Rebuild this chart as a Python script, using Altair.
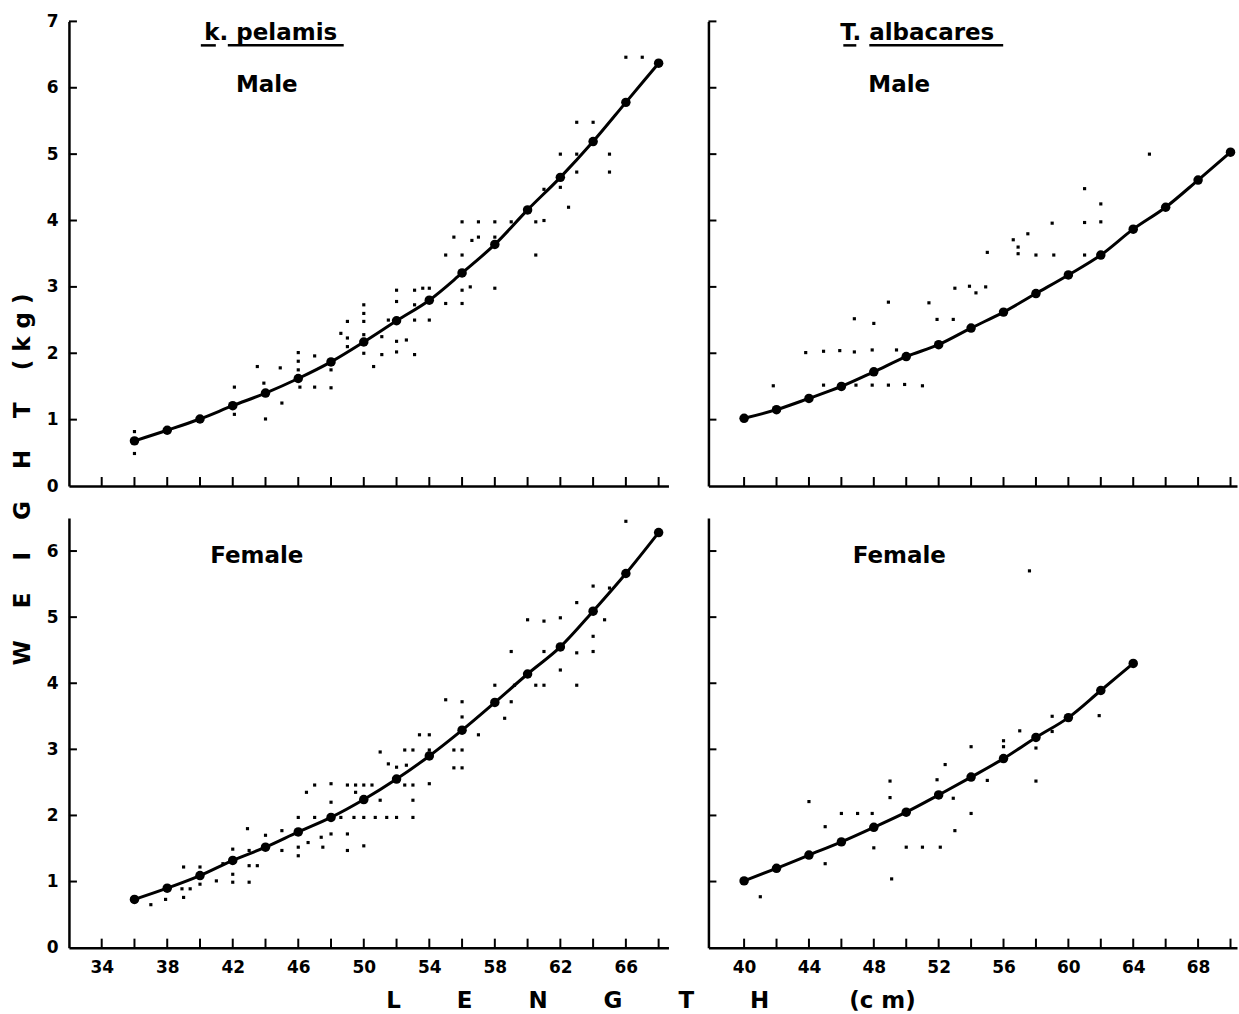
import altair as alt
import pandas as pd

# ---------------- data ----------------
kp_len = [36, 38, 40, 42, 44, 46, 48, 50, 52, 54, 56, 58, 60, 62, 64, 66, 68]
kp_male_w = [0.68, 0.84, 1.01, 1.21, 1.40, 1.62, 1.87, 2.17, 2.49, 2.80, 3.21, 3.64, 4.16, 4.65, 5.19, 5.78, 6.37]
kp_female_w = [0.73, 0.90, 1.09, 1.32, 1.52, 1.75, 1.97, 2.24, 2.55, 2.90, 3.29, 3.71, 4.14, 4.55, 5.09, 5.66, 6.28]

ta_male_len = [40, 42, 44, 46, 48, 50, 52, 54, 56, 58, 60, 62, 64, 66, 68, 70]
ta_male_w = [1.02, 1.15, 1.32, 1.50, 1.72, 1.95, 2.13, 2.38, 2.62, 2.90, 3.18, 3.48, 3.87, 4.20, 4.61, 5.03]
ta_female_len = [40, 42, 44, 46, 48, 50, 52, 54, 56, 58, 60, 62, 64]
ta_female_w = [1.01, 1.20, 1.40, 1.60, 1.82, 2.05, 2.31, 2.58, 2.86, 3.18, 3.48, 3.89, 4.30]

kp_m_sx = [36, 36, 42.1, 42.1, 43.5, 43.9, 44, 44.9, 45, 46, 46, 46, 46.1, 47, 47, 48, 48, 48.6, 49, 49, 49,
           50, 50, 50, 50, 50, 50.6, 51.1, 51.1, 51.5, 52, 52, 52, 52, 52.6, 53.1, 53.1, 53.1, 53.1, 53.6, 54,
           54, 55, 56, 56, 56.5, 55, 55.5, 56, 56, 56.6, 57, 57, 58, 58, 58, 59, 60.5, 61, 60.5, 61, 62, 62,
           62.5, 63, 63, 63, 64, 65, 65, 66, 67]
kp_m_sy = [0.82, 0.49, 1.49, 1.08, 1.80, 1.55, 1.01, 1.78, 1.25, 2.01, 1.88, 1.75, 1.49, 1.96, 1.49, 1.75, 1.48,
           2.30, 2.48, 2.23, 2.10, 2.73, 2.60, 2.48, 2.28, 2.00, 1.80, 1.98, 2.25, 2.50, 2.95, 2.78, 2.18, 2.02,
           2.20, 2.95, 2.73, 2.50, 1.98, 2.98, 2.50, 2.98, 2.75, 2.95, 2.75, 3.00, 3.48, 3.75, 3.98, 3.48, 3.70,
           3.98, 3.75, 3.98, 2.98, 3.75, 3.98, 3.98, 4.00, 3.48, 4.47, 5.00, 4.50, 4.20, 5.48, 5.00, 4.73, 5.48,
           5.00, 4.73, 6.46, 6.46]

kp_f_sx = [37, 37.9, 39, 39, 38.9, 39.4, 40, 40, 41, 41.4, 42, 42, 42, 42.9, 43, 43, 43, 43.5, 44, 45, 45, 46,
           46, 46, 46.5, 46.6, 47, 47, 47.4, 47.5, 48, 48, 48, 48.6, 49, 49, 49, 49.4, 49.5, 49.5, 50, 50, 50,
           50.5, 50.7, 51, 51, 51.4, 51.5, 52, 52, 52.5, 52.5, 52.6, 53, 53, 53, 53, 53.4, 54, 54, 54, 55, 55.5,
           55.5, 56, 56, 56, 56, 57, 58, 58.6, 59, 59, 59.2, 60, 60.5, 61, 61, 61, 62, 62, 63, 63, 63, 64, 64,
           64, 64.7, 65, 66]
kp_f_sy = [0.65, 0.73, 1.22, 0.76, 0.89, 0.89, 1.22, 0.96, 1.01, 1.27, 1.49, 1.11, 0.99, 1.80, 1.47, 1.24, 0.99,
           1.24, 1.70, 1.77, 1.47, 1.97, 1.39, 1.52, 2.35, 1.59, 2.46, 1.97, 1.67, 1.52, 2.48, 2.20, 1.72, 1.97,
           2.46, 1.72, 1.47, 1.97, 2.46, 2.35, 2.46, 1.97, 1.54, 2.46, 1.97, 2.96, 2.23, 1.97, 2.78, 2.73, 1.97,
           2.99, 2.46, 2.76, 2.99, 2.46, 2.23, 1.97, 3.22, 3.22, 2.99, 2.48, 3.75, 2.99, 2.72, 3.72, 3.49, 2.99,
           2.72, 3.22, 3.97, 3.47, 4.48, 3.72, 3.97, 4.96, 3.97, 4.94, 4.48, 3.97, 4.99, 4.20, 5.22, 4.46, 3.97,
           5.47, 4.71, 4.48, 4.96, 5.44, 6.45]

ta_m_sx = [41.8, 43.8, 44.9, 44.9, 45.9, 46.8, 46.8, 46.9, 47.9, 47.9, 48, 48.9, 48.9, 49.4, 49.9, 51, 51.4,
           51.9, 52.9, 53, 53.9, 54.3, 54.9, 55, 56.6, 56.9, 56.9, 57.5, 58, 59, 59.1, 61, 61, 61, 62, 62, 65]
ta_m_sy = [1.51, 2.01, 2.03, 1.52, 2.04, 2.52, 2.02, 1.52, 2.05, 1.52, 2.45, 2.77, 1.52, 2.05, 1.53, 1.51, 2.76,
           2.51, 2.51, 2.98, 3.01, 2.91, 3.00, 3.52, 3.71, 3.60, 3.50, 3.80, 3.48, 3.96, 3.48, 3.97, 3.48, 4.48,
           4.25, 3.98, 5.00]

ta_f_sx = [41, 44, 45, 45, 46, 47, 47.9, 48, 49, 49, 49.1, 50, 51, 51.9, 52.1, 52.4, 52.9, 53, 54, 54, 55, 56,
           56, 57, 57.6, 58, 58, 59, 59, 61.9]
ta_f_sy = [0.77, 2.21, 1.83, 1.27, 2.03, 2.03, 2.03, 1.51, 2.52, 2.27, 1.04, 1.52, 1.52, 2.54, 1.52, 2.77, 2.26,
           1.77, 3.04, 2.03, 2.53, 3.13, 3.04, 3.28, 5.70, 3.02, 2.52, 3.50, 3.27, 3.51]

left_xlabels = [34, 38, 42, 46, 50, 54, 58, 62, 66]
left_xticks = [34, 36, 38, 40, 42, 44, 46, 48, 50, 52, 54, 56, 58, 60, 62, 64, 66, 68]
right_xlabels = [40, 44, 48, 52, 56, 60, 64, 68]
right_xticks = [40, 42, 44, 46, 48, 50, 52, 54, 56, 58, 60, 62, 64, 66, 68, 70]
top_ylabels = [0, 1, 2, 3, 4, 5, 6, 7]
top_yticks = [1, 2, 3, 4, 5, 6, 7]
bot_ylabels = [0, 1, 2, 3, 4, 5, 6]
bot_yticks = [1, 2, 3, 4, 5, 6]

# ---------------- styling ----------------
FONT = "DejaVu Sans"
NB = "\u00a0"
LEFT_DOM = [32, 68.6]
RIGHT_DOM = [37.8, 70.4]
TOP_DOM = [0, 7]
BOT_DOM = [0, 6.5]
LW, RW = 600, 529
TH, BH = 465, 430

y_title = (NB * 4).join(list("WEIGHT")) + NB * 4 + "(" + NB + "k" + NB + "g" + NB + ")"
x_title = (NB * 7).join(list("LENGTH")) + NB * 10 + "(c" + NB + "m)"


def axis(values, show_labels, pad, title=None, extra=None):
    kw = dict(values=values, labels=show_labels, ticks=False, grid=False, format="d",
              domainColor="black", domainWidth=2.5, labelPadding=pad,
              labelFont=FONT, labelFontSize=17, labelFontWeight="bold",
              labelColor="black", title=title)
    if extra:
        kw.update(extra)
    return alt.Axis(**kw)


def panel(fit_x, fit_y, sx, sy, xdom, ydom, w, h, xlabels, xticks, ylabels, yticks,
          texts, underlines, xaxis_extra=None, yaxis_extra=None, xtitle=None, ytitle=None):
    xs = alt.Scale(domain=xdom, nice=False, zero=False)
    ys = alt.Scale(domain=ydom, nice=False, zero=False)
    xa = axis(xlabels, bool(xlabels), 12, xtitle, xaxis_extra)
    ya = axis(ylabels, bool(ylabels), 11, ytitle, yaxis_extra)

    fit_df = pd.DataFrame({"len": fit_x, "wt": fit_y})
    sc_df = pd.DataFrame({"len": sx, "wt": sy})
    tlen_y = 9.0 / h * (ydom[1] - ydom[0])
    tlen_x = 8.0 / w * (xdom[1] - xdom[0])
    xt_df = pd.DataFrame({"len": xticks, "y0": [ydom[0]] * len(xticks), "y1": [ydom[0] + tlen_y] * len(xticks)})
    yt_df = pd.DataFrame({"wt": yticks, "x0": [xdom[0]] * len(yticks), "x1": [xdom[0] + tlen_x] * len(yticks)})

    line = alt.Chart(fit_df).mark_line(color="black", strokeWidth=3, interpolate="monotone").encode(
        x=alt.X("len:Q", scale=xs, axis=xa), y=alt.Y("wt:Q", scale=ys, axis=ya))
    pts = alt.Chart(fit_df).mark_circle(color="black", size=90, opacity=1).encode(
        x="len:Q", y="wt:Q")
    sc = alt.Chart(sc_df).mark_square(color="black", size=10, opacity=1).encode(
        x="len:Q", y="wt:Q")
    xt = alt.Chart(xt_df).mark_rule(color="black", strokeWidth=2).encode(
        x="len:Q", y="y0:Q", y2="y1:Q")
    yt = alt.Chart(yt_df).mark_rule(color="black", strokeWidth=2).encode(
        y="wt:Q", x="x0:Q", x2="x1:Q")
    layers = [xt, yt, sc, line, pts]
    for (s, px, py, align, baseline) in texts:
        layers.append(alt.Chart(pd.DataFrame({"t": [s]})).mark_text(
            font=FONT, fontWeight="bold", fontSize=23, color="black", align=align, baseline=baseline
        ).encode(text="t:N", x=alt.value(px), y=alt.value(py)))
    for (a, b, py) in underlines:
        layers.append(alt.Chart(pd.DataFrame({"u": [0]})).mark_rule(color="black", strokeWidth=2.5).encode(
            x=alt.value(a), x2=alt.value(b), y=alt.value(py)))
    return alt.layer(*layers).properties(width=w, height=h)


tl = panel(kp_len, kp_male_w, kp_m_sx, kp_m_sy, LEFT_DOM, TOP_DOM, LW, TH,
           [], left_xticks, top_ylabels, top_yticks,
           [("k. pelamis", 202, 19, "center", "alphabetic"), ("Male", 198, 64, "center", "middle")],
           [(132, 147, 24), (159, 275, 24)],
           ytitle=y_title,
           yaxis_extra=dict(titleX=-46, titleY=458, titleAngle=270, titleAlign="center",
                            titleBaseline="middle", titleFont=FONT, titleFontSize=23,
                            titleFontWeight="bold", titleColor="black"))
tr = panel(ta_male_len, ta_male_w, ta_m_sx, ta_m_sy, RIGHT_DOM, TOP_DOM, RW, TH,
           [], right_xticks, [], top_yticks,
           [("T. albacares", 132, 19, "left", "alphabetic"), ("Male", 191, 64, "center", "middle")],
           [(135, 148, 24), (161, 295, 24)])
bl = panel(kp_len, kp_female_w, kp_f_sx, kp_f_sy, LEFT_DOM, BOT_DOM, LW, BH,
           left_xlabels, left_xticks, bot_ylabels, bot_yticks,
           [("Female", 188, 38, "center", "middle")], [],
           xtitle=x_title,
           xaxis_extra=dict(titleX=582, titleY=53, titleAlign="center", titleBaseline="middle",
                            titleFont=FONT, titleFontSize=23, titleFontWeight="bold",
                            titleColor="black"))
br = panel(ta_female_len, ta_female_w, ta_f_sx, ta_f_sy, RIGHT_DOM, BOT_DOM, RW, BH,
           right_xlabels, right_xticks, [], bot_yticks,
           [("Female", 191, 38, "center", "middle")], [])

chart = alt.concat(tl, tr, bl, br, columns=2, spacing={"row": 32, "column": 40}, bounds="flush").properties(
    padding={"left": 12, "top": 12, "right": 2, "bottom": 2}, background="white"
).configure_view(stroke=None)

chart.save("out.html", embed_options={"renderer": "svg", "actions": False})
